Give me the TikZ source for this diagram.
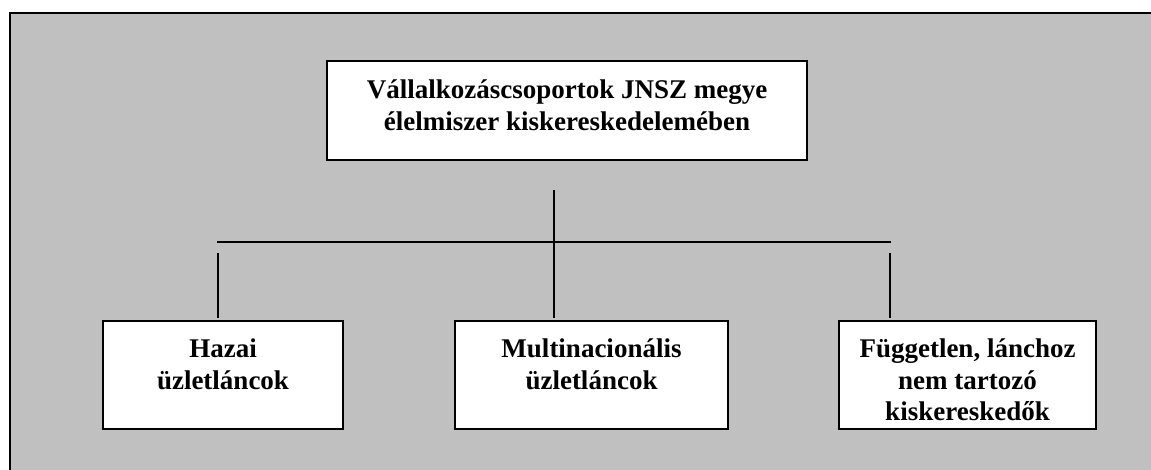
\documentclass[tikz,border=0pt]{standalone}
\usepackage{fontspec}
\setmainfont{Liberation Serif}
\begin{document}
\begin{tikzpicture}[x=1pt,y=-1pt,
  box/.style={draw=black,line width=1.6pt,fill=white,rectangle,inner sep=0pt},
  lbl/.style={font=\bfseries\fontsize{27}{31.5}\selectfont,align=center,inner sep=0pt,anchor=north},
  conn/.style={draw=black,line width=1.6pt}]
\useasboundingbox (0,0) rectangle (1151,470);
\fill[fill={rgb,255:red,192;green,192;blue,192}] (10,13) rectangle (1151,470);
\draw[line width=2pt] (10,470) -- (10,13) -- (1151,13);
% boxes
\node[box,minimum width=480pt,minimum height=99pt] (top) at (567,110.5) {};
\node[box,minimum width=240pt,minimum height=108pt] (left) at (223,375) {};
\node[box,minimum width=273pt,minimum height=108pt] (mid) at (591.5,375) {};
\node[box,minimum width=257pt,minimum height=108pt] (right) at (967.5,375) {};
% labels
\node[lbl] (toplbl) at (567,80) {Vállalkozáscsoportok JNSZ megye\\élelmiszer kiskereskedelemében};
\node[lbl] (leftlbl) at (223,339) {Hazai\\üzletláncok};
\node[lbl] (midlbl) at (591.5,339) {Multinacionális\\üzletláncok};
\node[lbl] (rightlbl) at (967.5,339) {Független, lánchoz\\nem tartozó\\kiskereskedők};
% connector coordinates
\coordinate (vtop) at (554,190);
\coordinate (vbot) at (554,318);
\coordinate (hl) at (217,242);
\coordinate (hr) at (891,242);
\coordinate (ltop) at (218,253);
\coordinate (lbot) at (218,318);
\coordinate (rtop) at (890,253);
\coordinate (rbot) at (890,318);
\draw[conn] (vtop) -- (vbot);
\draw[conn] (hl) -- (hr);
\draw[conn] (ltop) -- (lbot);
\draw[conn] (rtop) -- (rbot);
\end{tikzpicture}
\end{document}
